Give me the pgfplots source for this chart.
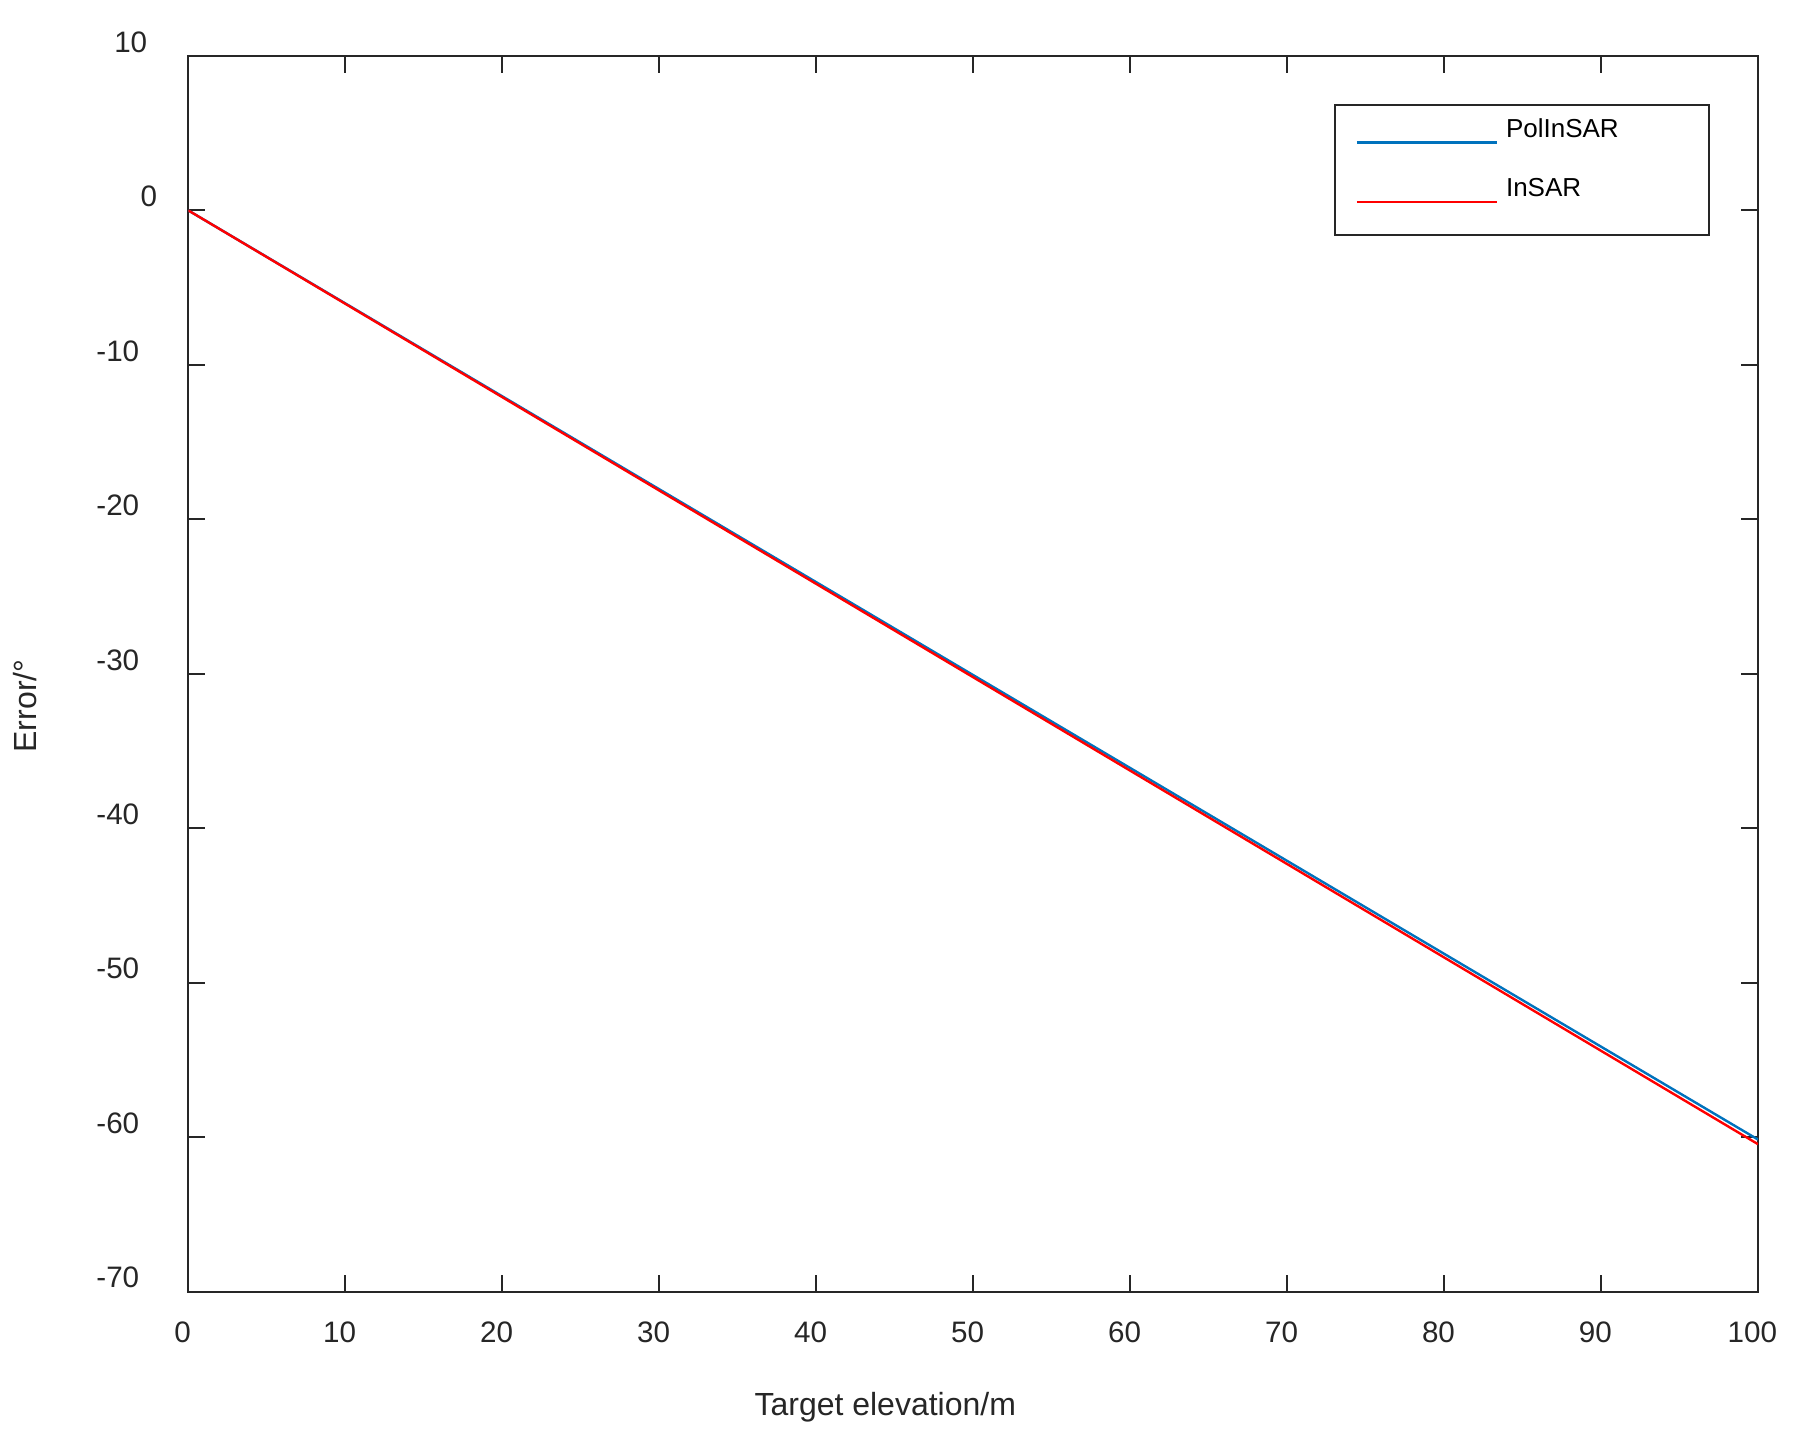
\documentclass[border=0pt]{standalone}
\usepackage{fontspec}
\setmainfont{Liberation Sans}
\usepackage{pgfplots}
\pgfplotsset{compat=1.18}
\usetikzlibrary{calc}
\definecolor{mblue}{rgb}{0,0.447,0.741}
\definecolor{axgray}{gray}{0.15}
\begin{document}
\begin{tikzpicture}
\begin{axis}[
scale only axis,
width=392.5pt, height=309pt,
xmin=0, xmax=100, ymin=-70, ymax=10,
xtick={0,10,...,100}, ytick={-70,-60,...,10},
yticklabels={-70,-60,-50,-40,-30,-20,-10,{0\hspace*{-4.5pt}},{10\hspace*{-2pt}}},
tick align=inside,
major tick length=4.2pt,
axis line style={axgray, line width=0.5pt},
every tick/.style={axgray, line width=0.5pt},
/pgf/number format/assume math mode=true,
ticklabel style={font=\fontsize{7.4}{8}\selectfont, text=axgray},
yticklabel style={anchor=east, xshift=-8.75pt, yshift=3.5pt},
xticklabel style={yshift=-3.9pt, xshift=-1.4pt},
xlabel={Target elevation/m},
ylabel={Error/°},
label style={font=\fontsize{8}{9}\selectfont, text=axgray},
xlabel style={at={(axis description cs:0.444,-0.0937)}, anchor=center},
ylabel style={at={(axis description cs:-0.104,0.474)}, anchor=center},
legend style={at={(axis description cs:1,1)}, anchor=north east,
  xshift=-12pt, yshift=-12pt, draw=none, fill=none,
  font=\fontsize{6.5}{7.5}\selectfont, inner xsep=3pt, inner ysep=1.4pt,
  row sep=4.8pt},
legend cell align=left,
legend image code/.code={\draw[#1] (0pt,-2.9pt) -- (35pt,-2.9pt);},
]
\addplot[mblue, line width=0.6pt] coordinates {(0,0) (50,-30.08) (100,-60.15)};
\addlegendentry{\makebox[45.8pt][l]{PolInSAR}}
\addplot[red, line width=0.6pt] coordinates {(0,0) (50,-30.22) (100,-60.45)};
\addlegendentry{InSAR}
\end{axis}
% legend frame
\draw[axgray, line width=0.6pt] ($(current axis.north east)+(-12.25pt,-12.25pt)$) rectangle ++(-93.5pt,-32.5pt);
\path ($(current axis.south west)+(-47pt,-39pt)$) rectangle ($(current axis.north east)+(10.5pt,14pt)$);
\end{tikzpicture}
\end{document}
